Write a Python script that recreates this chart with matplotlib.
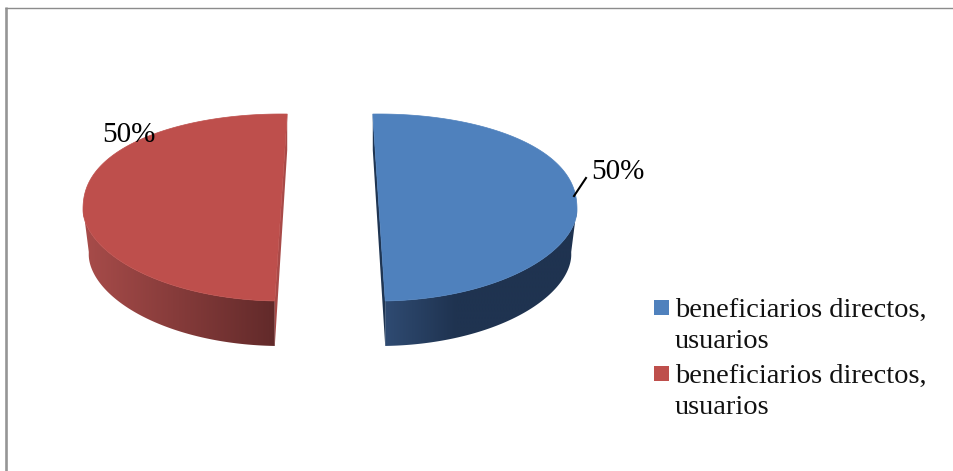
#!/usr/bin/env python3
# -*- coding: utf-8 -*-
import numpy as np
import matplotlib
matplotlib.use('Agg')
import matplotlib.pyplot as plt
from matplotlib.colors import LinearSegmentedColormap
from matplotlib.patches import Polygon, Rectangle

# datos
categorias = ['beneficiarios directos,\nusuarios', 'beneficiarios directos,\nusuarios']
valores = [50, 50]
etiquetas = ['50%', '50%']

# colores
color_sup = ['#4F81BD', '#BE4F4C']
color_corte = ['#1F3552', '#A84A48']
grad_lado = [['#2F4B72', '#1F3350'], ['#A84C4A', '#622A2A']]
grad_fin = [0.37, 1.0]  # fraccion del ancho donde termina el degradado

# geometria en pixeles (eje = imagen)
W, H = 954, 471
centros = [(379, 210), (281, 210)]
rx = 198
ry_arriba, ry_abajo = 96, 91
prof = 45
encoge = 0.97
inicio = [-1.8, 181.8]

plt.rcParams['font.family'] = ['Liberation Serif', 'DejaVu Serif']

fig = plt.figure(figsize=(W / 100, H / 100), dpi=100, facecolor='white')
ax = fig.add_axes([0, 0, 1, 1])
ax.set_xlim(0, W)
ax.set_ylim(H, 0)
ax.axis('off')

# marco gris
ax.plot([6.3, 6.3], [H, 7], color='#969696', lw=1.9, solid_capstyle='butt')
ax.plot([5, W], [7.5, 7.5], color='#8C8C8C', lw=1.0, solid_capstyle='butt')


def punto(c, ang):
    a = np.radians(ang)
    cs = np.cos(a)
    # la tarta no es una elipse exacta: arriba abulta mas por la perspectiva
    dy = np.where(cs >= 0, ry_arriba * np.abs(cs) ** 0.88, -ry_abajo * np.abs(cs) ** 1.08)
    return c[0] + rx * np.sin(a), c[1] - dy


total = sum(valores)
for i, v in enumerate(valores):
    c = centros[i]
    t = np.linspace(inicio[i], inicio[i] + 360 * v / total, 400)
    x, y = punto(c, t)

    # el azul va de arriba a abajo, el rojo de abajo a arriba
    if i == 0:
        arriba, abajo = (x[0], y[0]), (x[-1], y[-1])
    else:
        arriba, abajo = (x[-1], y[-1]), (x[0], y[0])

    # lado curvo: solo la parte de abajo, la base se estrecha un poco
    vis = np.cos(np.radians(t)) <= 0.02
    xv, yv = x[vis], y[vis]
    xl = abajo[0] + (xv - abajo[0]) * encoge
    lado = np.column_stack([np.r_[xv, xl[::-1]], np.r_[yv, yv[::-1] + prof]])
    clip = Polygon(lado, closed=True, fc='none', ec='none', transform=ax.transData)
    ax.add_patch(clip)
    cmap = LinearSegmentedColormap.from_list('g', grad_lado[i])
    grad = np.clip(np.linspace(0, 1, 256) / grad_fin[i], 0, 1)
    im = ax.imshow(grad[None, :], cmap=cmap, vmin=0, vmax=1, aspect='auto',
                   extent=[xv.min(), xv.max(), H, 0], zorder=2)
    im.set_clip_path(clip)

    # cara de corte
    corte = [arriba, (arriba[0], arriba[1] + prof * 0.8), (abajo[0], abajo[1] + prof), abajo]
    ax.add_patch(Polygon(corte, closed=True, fc=color_corte[i], ec='none', zorder=3))

    # cara superior
    ax.add_patch(Polygon(np.column_stack([x, y]), closed=True, fc=color_sup[i],
                         ec=color_sup[i], lw=0.5, zorder=4))

# etiquetas
ax.plot([574, 586], [196, 178], color='black', lw=1.5, zorder=5)
ax.text(591, 172, etiquetas[0], fontsize=21, color='black', va='center', ha='left', zorder=6)
ax.text(102, 135, etiquetas[1], fontsize=21, color='black', va='center', ha='left', zorder=6)

# leyenda: el cuadro va alineado con la primera linea
for i, nombre in enumerate(categorias):
    y0 = 300 + 66 * i
    ax.add_patch(Rectangle((654, y0), 15, 15, fc=color_sup[i], ec='none', zorder=5))
    ax.text(675, y0 - 2, nombre, fontsize=20.5, color='#111111', va='top', ha='left',
            linespacing=1.3, zorder=6)

fig.savefig('out.png', dpi=100, facecolor='white')
